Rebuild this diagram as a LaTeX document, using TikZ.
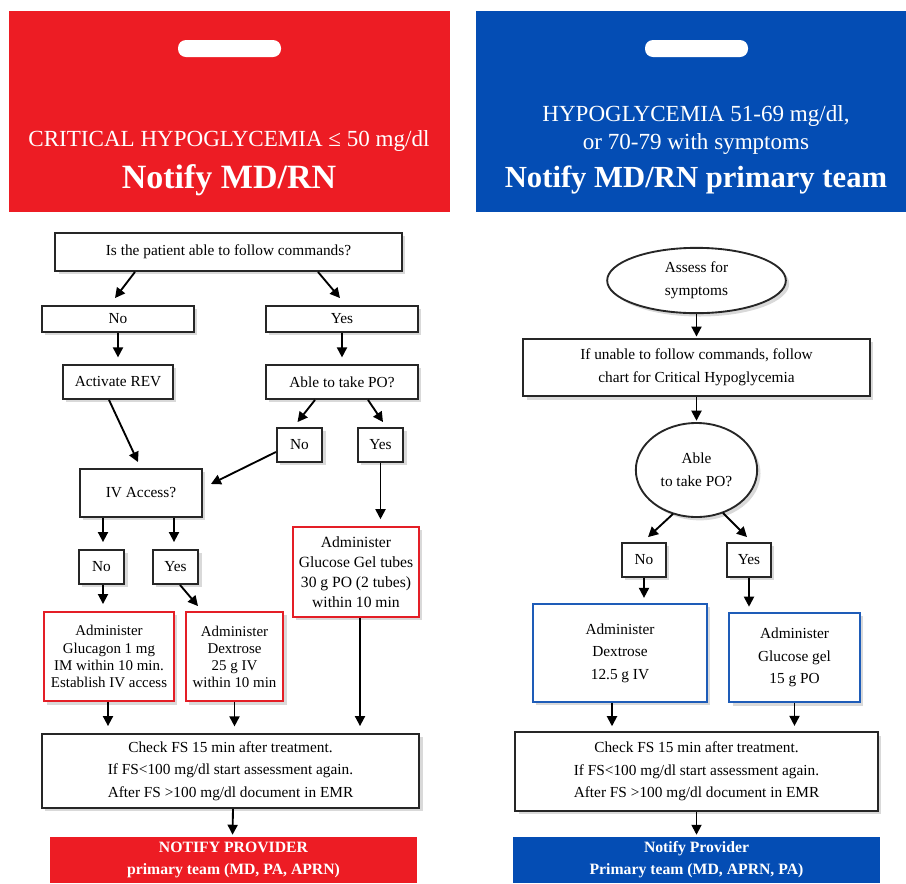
\documentclass[tikz,border=0pt]{standalone}
\usepackage{fontspec}
\setmainfont{Liberation Serif}
\usetikzlibrary{calc,positioning,shapes.geometric,shadows,arrows.meta}
\definecolor{cardred}{RGB}{237,28,36}
\definecolor{cardblue}{RGB}{4,77,180}
\definecolor{edgered}{RGB}{228,30,38}
\definecolor{edgeblue}{RGB}{30,92,184}

\begin{document}
\begin{tikzpicture}[
            x=0.75pt, y=-0.75pt,
            box/.style={draw=black!85, line width=1.4pt, fill=white, align=center, inner sep=1pt,
                drop shadow={shadow xshift=2.5pt, shadow yshift=-2.5pt, opacity=0.3},
                font=\fontsize{11.5}{17}\selectfont},
            redbox/.style={box, draw=edgered, line width=1.2pt},
            bluebox/.style={box, draw=edgeblue, line width=1.2pt},
            oval/.style={box, ellipse, inner sep=0pt},
            tight/.style={font=\fontsize{11.2}{12.8}\selectfont},
            arr/.style={line width=1.4pt, -{Triangle[length=7.5pt,width=7.5pt]}},
            headline/.style={text=white, align=center, inner sep=0pt, font=\fontsize{17.3}{21}\selectfont},
            headtitle/.style={text=white, inner sep=0pt, font=\fontsize{23}{27}\selectfont\bfseries},
            notebar/.style={text=white, align=center, inner sep=0pt, font=\fontsize{11.8}{16.5}\selectfont\bfseries},
        ]
        \useasboundingbox (0,0) rectangle (906,883);
        % LEFT: critical hypoglycemia
        \fill[cardred] (9,11) rectangle (450,212);
        \fill[white, rounded corners=6pt] (178,40) rectangle (281,57);
        \node[headline] (critTitle) at (229,141) {CRITICAL HYPOGLYCEMIA ≤ 50 mg/dl};
        \node[headtitle, font=\fontsize{25.5}{29}\selectfont\bfseries] (critNotify) at (229,180) {Notify MD/RN};

        \node[box, minimum width=260pt, minimum height=28.5pt] (cmd) at (228.5,252) {Is the patient able to follow commands?};
        \node[box, minimum width=114pt, minimum height=19.5pt] (cmdNo) at (118,319) {No};
        \node[box, minimum width=114pt, minimum height=19.5pt] (cmdYes) at (342,319) {Yes};
        \node[box, minimum width=82.5pt, minimum height=25.5pt] (rev) at (118,382) {Activate REV};
        \node[box, minimum width=114pt, minimum height=25.5pt] (po) at (342,382) {Able to take PO?};
        \node[box, minimum width=34pt, minimum height=25.5pt] (poNo) at (299.5,445) {No};
        \node[box, minimum width=34pt, minimum height=25.5pt] (poYes) at (380.5,445) {Yes};
        \node[box, minimum width=91.5pt, minimum height=36pt] (iv) at (141,493) {IV Access?};
        \node[box, minimum width=34pt, minimum height=25.5pt] (ivNo) at (101.5,567) {No};
        \node[box, minimum width=34pt, minimum height=25.5pt] (ivYes) at (175.5,567) {Yes};
        \node[redbox, tight, minimum width=97.5pt, minimum height=67pt] (glucagon) at (109,656.5) {Administer\\Glucagon 1 mg\\IM within 10 min.\\Establish IV access};
        \node[redbox, tight, minimum width=73pt, minimum height=67pt] (dex) at (234.5,656.5) {Administer\\Dextrose\\25 g IV\\within 10 min};
        \node[redbox, font=\fontsize{11.7}{15}\selectfont, minimum width=94.5pt, minimum height=67.5pt] (gel) at (356,572) {Administer\\Glucose Gel tubes\\30 g PO (2 tubes)\\within 10 min};
        \node[box, minimum width=283pt, minimum height=55.5pt] (check) at (230.5,771) {Check FS 15 min after treatment.\\If FS<100 mg/dl start assessment again.\\After FS >100 mg/dl document in EMR};
        \node[notebar, fill=cardred, minimum width=275pt, minimum height=34.5pt] (notifyL) at (233.5,860) {NOTIFY PROVIDER\\primary team (MD, PA, APRN)};

        \draw[arr] ($(cmd.south)+(-93.5,0)$) -- ($(cmdNo.north)+(-3,-7)$);
        \draw[arr] ($(cmd.south)+(89.5,0)$) -- ($(cmdYes.north)+(-2,-7)$);
        \draw[arr, shorten >=5pt] (cmdNo) -- (rev);
        \draw[arr, shorten >=5pt] (cmdYes) -- (po);
        \draw[arr] ($(po.south)+(-27,0)$) -- ($(poNo.north)+(-2,-5)$);
        \draw[arr] ($(po.south)+(26,0)$) -- ($(poYes.north)+(2.5,-5)$);
        \draw[arr] ($(rev.south)+(-9,0)$) -- ($(iv.north)+(-3,-6)$);
        \draw[arr] ($(poNo.west)+(0,7)$) -- ($(iv.east)+(8,-9)$);
        \draw[arr] ($(iv.south)+(-38,0)$) -- ($(ivNo.north)+(1.5,-7)$);
        \draw[arr] ($(iv.south)+(33,0)$) -- ($(ivYes.north)+(-1.5,-7)$);
        \draw[arr] ($(ivNo.south)+(1.5,0)$) -- ($(glucagon.north)+(-6,-7)$);
        \draw[arr] ($(ivYes.south)+(4.5,0)$) -- ($(dex.north)+(-36.5,-5)$);
        \draw[arr] (poYes.south) -- ($(gel.north)+(24.5,-7)$);
        \draw[arr] ($(glucagon.south)+(-1,0)$) -- ($(check.north)+(-122.5,-7)$);
        \draw[arr, shorten >=5pt] (dex.south) -- (dex.south |- check.north);
        \draw[arr] ($(gel.south)+(4,0)$) -- ($(gel.south |- check.north)+(4,-7)$);
        \draw[arr] ($(check.south)+(2.5,0)$) -- ($(notifyL.north)+(-1,-2)$);

        % RIGHT: hypoglycemia 51-69
        \fill[cardblue] (476,11) rectangle (906,212);
        \fill[white, rounded corners=6pt] (645,40) rectangle (748,57);
        \node[headline] (hypoTitle) at (696,130) {HYPOGLYCEMIA 51-69 mg/dl,\\or 70-79 with symptoms};
        \node[headtitle] (hypoNotify) at (696,180) {Notify MD/RN primary team};

        \node[oval, minimum width=134pt, minimum height=49pt] (assess) at (696.5,280.5) {Assess for\\symptoms};
        \node[box, minimum width=260pt, minimum height=43pt] (unable) at (696.5,367.5) {If unable to follow commands, follow\\chart for Critical Hypoglycemia};
        \node[oval, minimum width=91pt, minimum height=70.5pt] (ableR) at (696.5,470) {Able\\to take PO?};
        \node[box, minimum width=33pt, minimum height=25.5pt] (ableNo) at (644,560) {No};
        \node[box, minimum width=33pt, minimum height=25.5pt] (ableYes) at (749,560) {Yes};
        \node[bluebox, minimum width=130.5pt, minimum height=73.5pt] (dexR) at (620,653) {Administer\\Dextrose\\12.5 g IV};
        \node[bluebox, minimum width=98pt, minimum height=67pt] (gelR) at (794.5,657.5) {Administer\\Glucose gel\\15 g PO};
        \node[box, minimum width=272pt, minimum height=59pt] (checkR) at (696.5,771.5) {Check FS 15 min after treatment.\\If FS<100 mg/dl start assessment again.\\After FS >100 mg/dl document in EMR};
        \node[notebar, fill=cardblue, minimum width=275pt, minimum height=34.5pt] (notifyR) at (696.5,860) {Notify Provider\\Primary team (MD, APRN, PA)};

        \draw[arr, shorten >=1pt] (assess) -- (unable);
        \draw[arr, shorten >=1pt] (unable) -- (ableR);
        \draw[arr] ($(ableR.south)+(-23.5,-4)$) -- ($(ableNo.north)+(4,-5)$);
        \draw[arr] ($(ableR.south)+(26.5,-5)$) -- ($(ableYes.north)+(-2,-5)$);
        \draw[arr, shorten >=4pt] (ableNo.south) -- (ableNo.south |- dexR.north);
        \draw[arr, shorten >=4pt] (ableYes.south) -- (ableYes.south |- gelR.north);
        \draw[arr] ($(dexR.south)+(-8,0)$) -- ($(dexR.south |- checkR.north)+(-8,-5)$);
        \draw[arr, shorten >=4pt] (gelR.south) -- (gelR.south |- checkR.north);
        \draw[arr, shorten >=1.5pt] (checkR) -- (notifyR);
        \end{tikzpicture}
\end{document}
